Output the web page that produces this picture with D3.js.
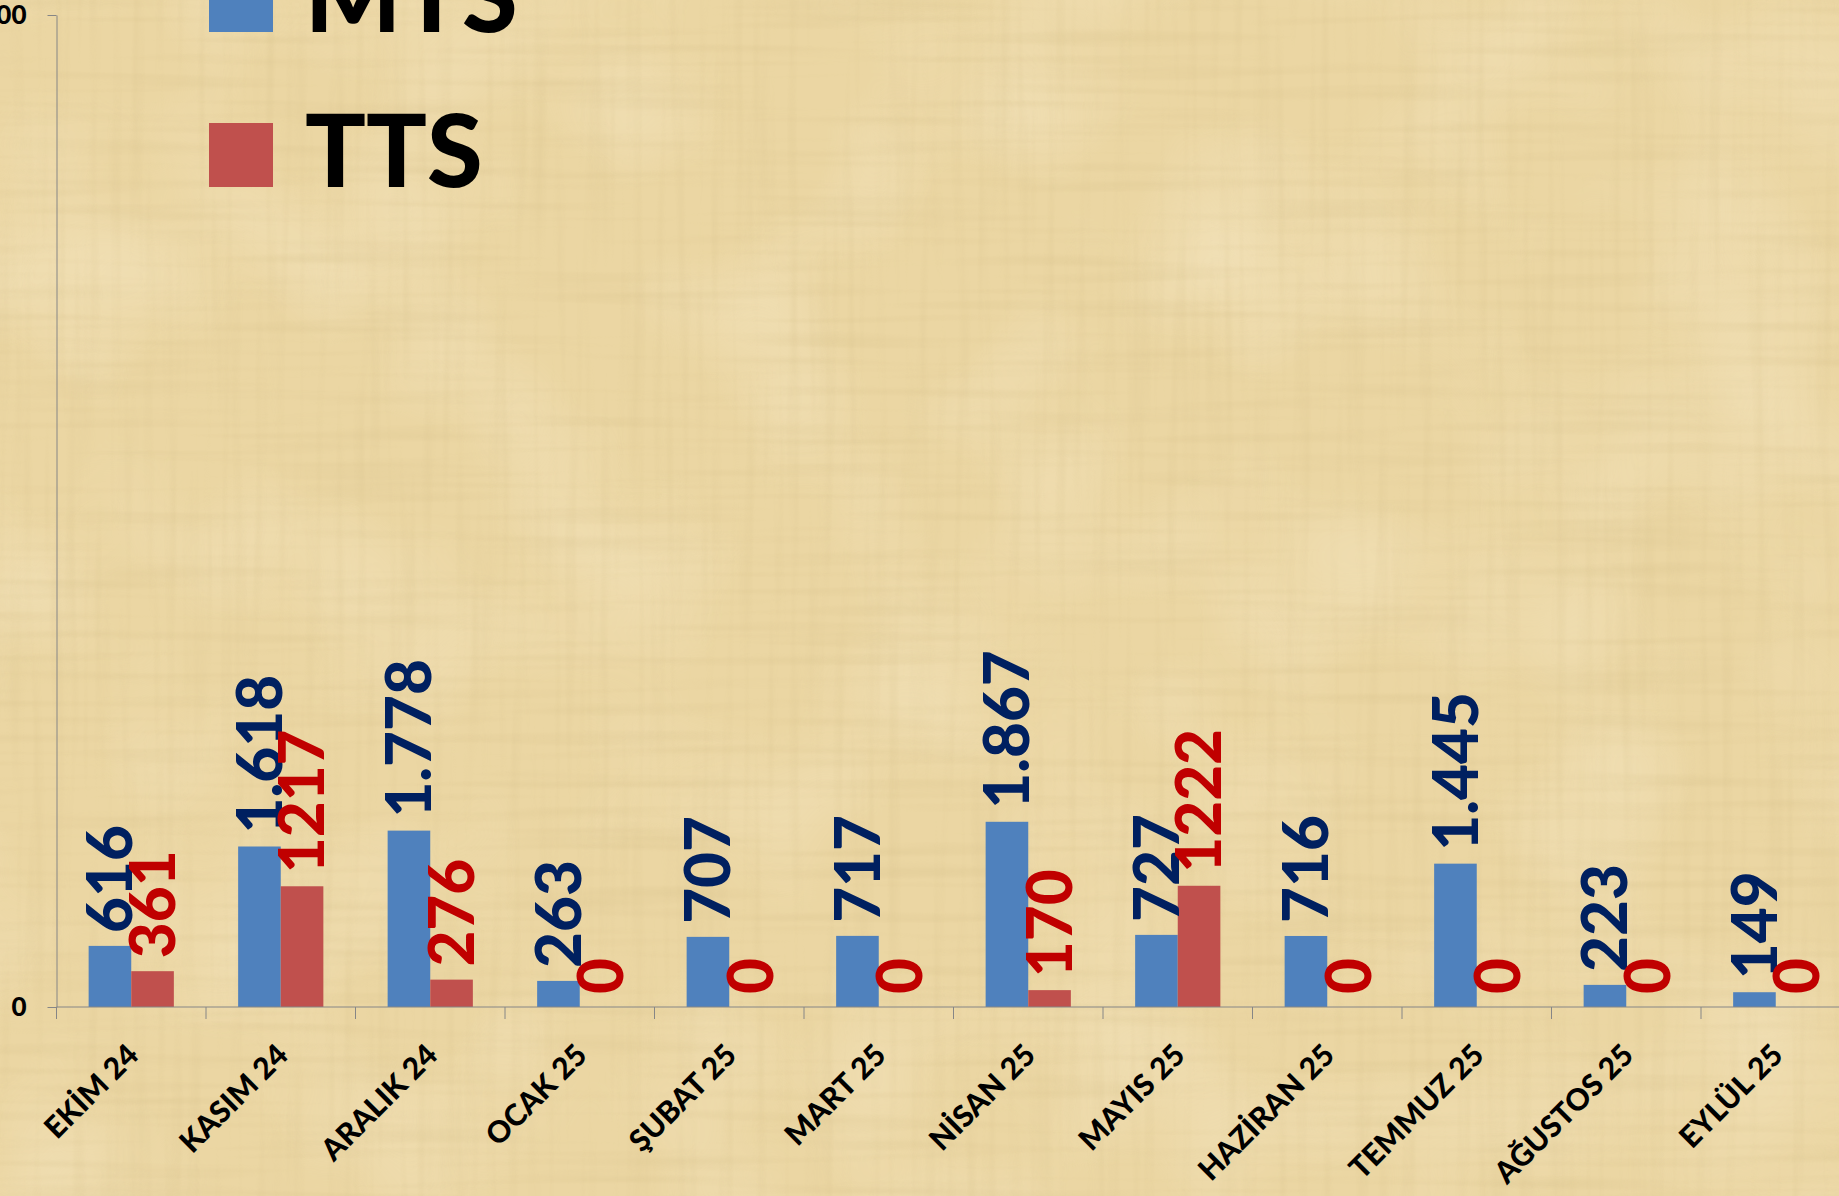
<!DOCTYPE html>
<html>
<head>
<meta charset="utf-8">
<script src="https://cdnjs.cloudflare.com/ajax/libs/d3/7.8.5/d3.min.js"></script>
<style>
  html, body { margin: 0; padding: 0; overflow: hidden; background: #ebd6a3; }
  svg { display: block; }
  text { font-family: Lato, "Noto Sans", sans-serif; font-weight: bold; }
</style>
</head>
<body>
<svg id="chart"></svg>
<script>
// months on the x axis
var months = ["EKİM 24", "KASIM 24", "ARALIK 24", "OCAK 25", "ŞUBAT 25", "MART 25",
              "NİSAN 25", "MAYIS 25", "HAZİRAN 25", "TEMMUZ 25", "AĞUSTOS 25", "EYLÜL 25"];
var mtsValues = [616, 1618, 1778, 263, 707, 717, 1867, 727, 716, 1445, 223, 149];
var ttsValues = [361, 1217, 276, 0, 0, 0, 170, 1222, 0, 0, 0, 0];
var seriesNames = ["MTS", "TTS"];
var yTickValues = [0, 10000];

var W = 1839, H = 1196;
var barColors = {MTS: "#4f81bd", TTS: "#c0504d"};
var labelColors = {MTS: "#002060", TTS: "#c00000"};

// turkish number format, 1.618 style (TTS labels are shown without separator)
var trFormat = d3.formatLocale({decimal: ",", thousands: ".", grouping: [3], currency: ["", " TL"]}).format(",d");
var labelFormat = {MTS: trFormat, TTS: d3.format("d")};

var svg = d3.select("#chart").attr("width", W).attr("height", H);

// papyrus-ish background
var defs = svg.append("defs");
function noiseFilter(id, freq, seed, matrix) {
  var f = defs.append("filter").attr("id", id).attr("x", 0).attr("y", 0).attr("width", 1).attr("height", 1);
  f.append("feTurbulence").attr("type", "fractalNoise").attr("baseFrequency", freq).attr("numOctaves", 2).attr("seed", seed);
  f.append("feColorMatrix").attr("type", "matrix").attr("values", matrix);
}
noiseFilter("streakH", "0.004 0.09", 4, "0 0 0 0 0.62  0 0 0 0 0.48  0 0 0 0 0.22  1.6 0 0 0 -0.75");
noiseFilter("streakV", "0.09 0.004", 9, "0 0 0 0 0.66  0 0 0 0 0.52  0 0 0 0 0.25  1.6 0 0 0 -0.75");
noiseFilter("patch", "0.006 0.006", 2, "0 0 0 0 0.97  0 0 0 0 0.89  0 0 0 0 0.70  1.4 0 0 0 -0.6");

svg.append("rect").attr("width", W).attr("height", H).attr("fill", "#ebd6a3");
svg.append("rect").attr("width", W).attr("height", H).attr("filter", "url(#patch)").attr("opacity", 0.45);
svg.append("rect").attr("width", W).attr("height", H).attr("filter", "url(#streakH)").attr("opacity", 0.28);
svg.append("rect").attr("width", W).attr("height", H).attr("filter", "url(#streakV)").attr("opacity", 0.28);

// plot area (runs off the right edge, like the original)
var plotLeft = 56.5, plotTop = 15, plotBottom = 1007, step = 149.5;

var x0 = d3.scaleBand()
  .domain(months)
  .range([plotLeft, plotLeft + step * months.length])
  .paddingInner(0.43)
  .paddingOuter(0.215);

var x1 = d3.scaleBand()
  .domain(seriesNames)
  .range([0, x0.bandwidth()]);

var y = d3.scaleLinear()
  .domain([0, 10000])
  .range([plotBottom, plotTop]);

var data = months.map(function(m, i) {
  return {month: m, values: [{key: "MTS", value: mtsValues[i]}, {key: "TTS", value: ttsValues[i]}]};
});

// bars
var groups = svg.append("g").selectAll("g")
  .data(data)
  .enter().append("g")
  .attr("transform", d => "translate(" + x0(d.month) + ",0)");

groups.selectAll("rect")
  .data(d => d.values)
  .enter().append("rect")
  .attr("x", d => x1(d.key))
  .attr("y", d => y(d.value))
  .attr("width", x1.bandwidth())
  .attr("height", d => y(0) - y(d.value))
  .attr("fill", d => barColors[d.key]);

// y axis
var yAxis = svg.append("g")
  .attr("transform", "translate(" + plotLeft + ",0)")
  .call(d3.axisLeft(y).tickValues(yTickValues).tickFormat(trFormat).tickSize(9).tickSizeOuter(0));
yAxis.select(".domain").attr("stroke", "#868686");
yAxis.selectAll(".tick line").attr("stroke", "#868686");
yAxis.selectAll(".tick text")
  .attr("x", -30)
  .attr("fill", "#000")
  .style("font-size", "26px")
  .style("font-family", "Lato, 'Noto Sans', sans-serif")
  .style("font-weight", "900");

// x axis: line + ticks between categories
var xAxis = svg.append("g").attr("transform", "translate(0," + plotBottom + ")");
xAxis.append("line")
  .attr("x1", plotLeft).attr("x2", W)
  .attr("stroke", "#868686").attr("stroke-width", 1);

var edgeX = d => x0(d) - (x0.step() - x0.bandwidth()) / 2;
xAxis.selectAll(".sep")
  .data(months)
  .enter().append("line")
  .attr("class", "sep")
  .attr("x1", edgeX).attr("x2", edgeX)
  .attr("y1", 0).attr("y2", 12)
  .attr("stroke", "#868686");

xAxis.selectAll(".cat")
  .data(months)
  .enter().append("text")
  .attr("class", "cat")
  .attr("transform", d => "translate(" + (x0(d) + x0.bandwidth() / 2 + 9) + ",50) rotate(-45)")
  .attr("text-anchor", "end")
  .attr("fill", "#000")
  .style("font-size", "30px")
  .style("font-weight", "900")
  .text(d => d);

// value labels, rotated
seriesNames.forEach(function(s) {
  svg.append("g").selectAll("text")
    .data(data)
    .enter().append("text")
    .attr("transform", function(d) {
      var v = d.values.find(e => e.key === s).value;
      var cx = x0(d.month) + x1(s) + x1.bandwidth() / 2;
      return "translate(" + cx + "," + (y(v) - 13) + ") rotate(-90)";
    })
    .attr("dy", "0.36em")
    .attr("fill", labelColors[s])
    .style("font-size", "62px")
    .style("font-weight", "900")
    .text(d => labelFormat[s](d.values.find(e => e.key === s).value));
});

// legend (cut off at the top in the original)
var legendY = d3.scalePoint().domain(seriesNames).range([32, 187]);
var legend = svg.append("g").selectAll("g")
  .data(seriesNames)
  .enter().append("g");
legend.append("rect")
  .attr("x", 209).attr("y", d => legendY(d) - 64)
  .attr("width", 64).attr("height", 64)
  .attr("fill", d => barColors[d]);
legend.append("text")
  .attr("x", 305).attr("y", d => legendY(d))
  .attr("fill", "#000")
  .style("font-size", "101px")
  .style("font-weight", "900")
  .text(d => d);
</script>
</body>
</html>
